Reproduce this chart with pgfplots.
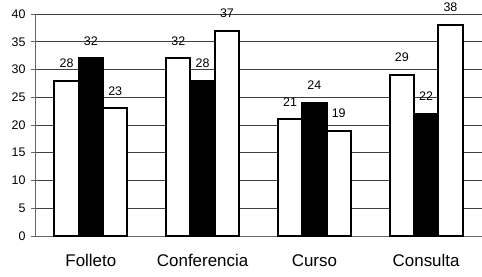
\documentclass[border=0pt]{standalone}
\usepackage{fontspec}
\setmainfont{Liberation Sans}
\usepackage{pgfplots}
\pgfplotsset{compat=1.18}
\begin{document}
\begin{tikzpicture}
\begin{axis}[
  name=ax,
  scale only axis,
  width=447bp, height=222bp,
  ymin=0, ymax=40, ytick={0,5,...,40},
  xmin=-0.5, xmax=3.5,
  xtick={0,1,2,3},
  xticklabels={Folleto,Conferencia,Curso,Consulta},
  major x tick style={draw=none},
  extra x ticks={-0.5,0.5,1.5,2.5,3.5},
  extra x tick labels={},
  extra x tick style={major tick length=4bp, tick style={black, line width=0.8pt}, grid=none},
  axis x line*=bottom, axis y line*=left,
  axis line style={black!60, line width=0.8pt},
  tick align=outside,
  ytick style={black!60, line width=0.8pt},
  major tick length=4bp,
  ymajorgrids,
  grid style={black!75, line width=0.6pt},
  x tick label style={font=\fontsize{17}{20}\selectfont, yshift=-11bp},
  y tick label style={font=\fontsize{12.5}{15}\selectfont, xshift=-2bp},
  /pgf/number format/assume math mode=true,
  ybar=0pt, bar width=0.218,
  nodes near coords,
  every node near coord/.append style={font=\fontsize{12.5}{15}\selectfont, anchor=south, inner sep=0pt, yshift=12bp},
  clip=false,
]
\addplot[draw=black, fill=white, line width=2bp] coordinates {(0,28) (1,32) (2,21) (3,29)};
\addplot[draw=black, fill=black, line width=2bp] coordinates {(0,32) (1,28) (2,24) (3,22)};
\addplot[draw=black, fill=white, line width=2bp] coordinates {(0,23) (1,37) (2,19) (3,38)};
\end{axis}
\pgfresetboundingbox
\path[use as bounding box] ([xshift=-35bp,yshift=-41bp]ax.south west) rectangle ([yshift=14bp]ax.north east);
\end{tikzpicture}
\end{document}
